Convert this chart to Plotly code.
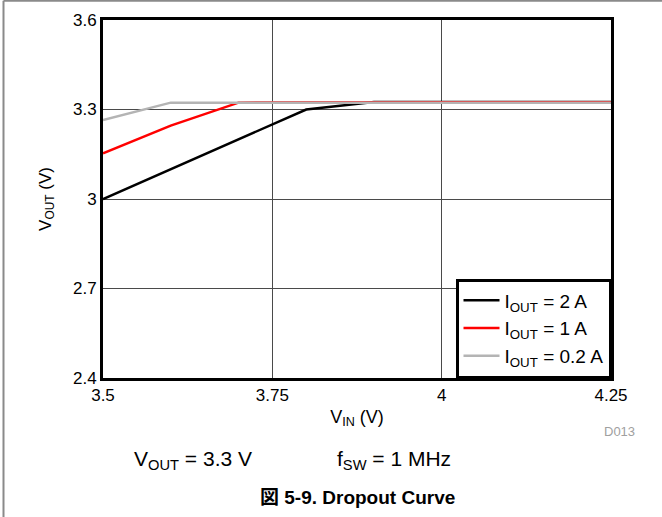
import plotly.graph_objects as go

# Input voltage sweep (V)
vin = [3.5, 3.6, 3.7, 3.8, 3.9, 4.0, 4.1, 4.2, 4.25]

# Output voltage (V) for each load current
vout_2a = [3.0, 3.1, 3.2, 3.3, 3.325, 3.325, 3.325, 3.325, 3.325]
vout_1a = [3.153, 3.246, 3.323, 3.324, 3.324, 3.324, 3.324, 3.324, 3.324]
vout_02a = [3.265, 3.323, 3.323, 3.323, 3.323, 3.323, 3.323, 3.323, 3.323]

series_names = ["I<sub>OUT</sub> = 2 A", "I<sub>OUT</sub> = 1 A", "I<sub>OUT</sub> = 0.2 A"]
series_colors = ["#000000", "#ff0000", "#b4b4b4"]

x_ticks = [3.5, 3.75, 4.0, 4.25]
x_tick_text = ["3.5", "3.75", "4", "4.25"]
y_ticks = [2.4, 2.7, 3.0, 3.3, 3.6]
y_tick_text = ["2.4", "2.7", "3", "3.3", "3.6"]

FONT = "Liberation Sans, Arial, sans-serif"

fig = go.Figure()
for ys, name, color in zip([vout_2a, vout_1a, vout_02a], series_names, series_colors):
    fig.add_trace(go.Scatter(x=vin, y=ys, mode="lines", name=name,
                             line=dict(color=color, width=2.5)))

# plot-area geometry in pixels, used to place the free text
W, H = 662, 517
L, R, T, B = 103, 611, 20, 378


def px(x):
    return (x - L) / (R - L)


def py(y):
    return (B - y) / (B - T)


annotations = [
    dict(text="D013", x=px(637), y=py(431), xanchor="right", yanchor="middle",
         font=dict(size=13, color="#a0a0a0", family=FONT)),
    dict(text="V<sub>OUT</sub> = 3.3 V", x=px(132), y=py(460), xanchor="left", yanchor="middle",
         font=dict(size=21, color="#000000", family=FONT)),
    dict(text="f<sub>SW</sub> = 1 MHz", x=px(335), y=py(460), xanchor="left", yanchor="middle",
         font=dict(size=21, color="#000000", family=FONT)),
    dict(text="<b>図 5-9. Dropout Curve</b>", x=px(357), y=py(497), xanchor="center", yanchor="middle",
         font=dict(size=19, color="#000000", family="Liberation Sans, Noto Sans CJK JP, sans-serif")),
]
for a in annotations:
    a.update(xref="paper", yref="paper", showarrow=False)

shapes = [
    # page border: top and left edges
    dict(type="line", xref="paper", yref="paper", x0=px(3.5), x1=px(662), y0=py(0.8), y1=py(0.8),
         line=dict(color="#8a8a8a", width=2)),
    dict(type="line", xref="paper", yref="paper", x0=px(3.5), x1=px(3.5), y0=py(0.8), y1=py(517),
         line=dict(color="#8a8a8a", width=2)),
]

fig.update_layout(
    width=W, height=H,
    margin=dict(l=L, r=W - R, t=T, b=H - B, pad=0),
    paper_bgcolor="white", plot_bgcolor="white",
    font=dict(family=FONT, size=17, color="#000000"),
    showlegend=True,
    legend=dict(x=1, y=0, xanchor="right", yanchor="bottom",
                bgcolor="white", bordercolor="#000000", borderwidth=2.5,
                font=dict(size=19, family=FONT), tracegroupgap=0,
                itemwidth=36),
    annotations=annotations,
    shapes=shapes,
)

fig.update_xaxes(range=[3.5, 4.25], tickvals=x_ticks, ticktext=x_tick_text,
                 showgrid=True, gridcolor="#4a4a4a", gridwidth=1,
                 showline=True, linecolor="#000000", linewidth=3, mirror=True,
                 ticks="", zeroline=False,
                 title=dict(text="V<sub>IN</sub> (V)", font=dict(size=18), standoff=6))
fig.update_yaxes(range=[2.4, 3.6], tickvals=y_ticks, ticktext=y_tick_text,
                 showgrid=True, gridcolor="#4a4a4a", gridwidth=1,
                 showline=True, linecolor="#000000", linewidth=3, mirror=True,
                 ticks="", zeroline=False,
                 title=dict(text="V<sub>OUT</sub> (V)", font=dict(size=17), standoff=18))

fig.write_html("out.html")
